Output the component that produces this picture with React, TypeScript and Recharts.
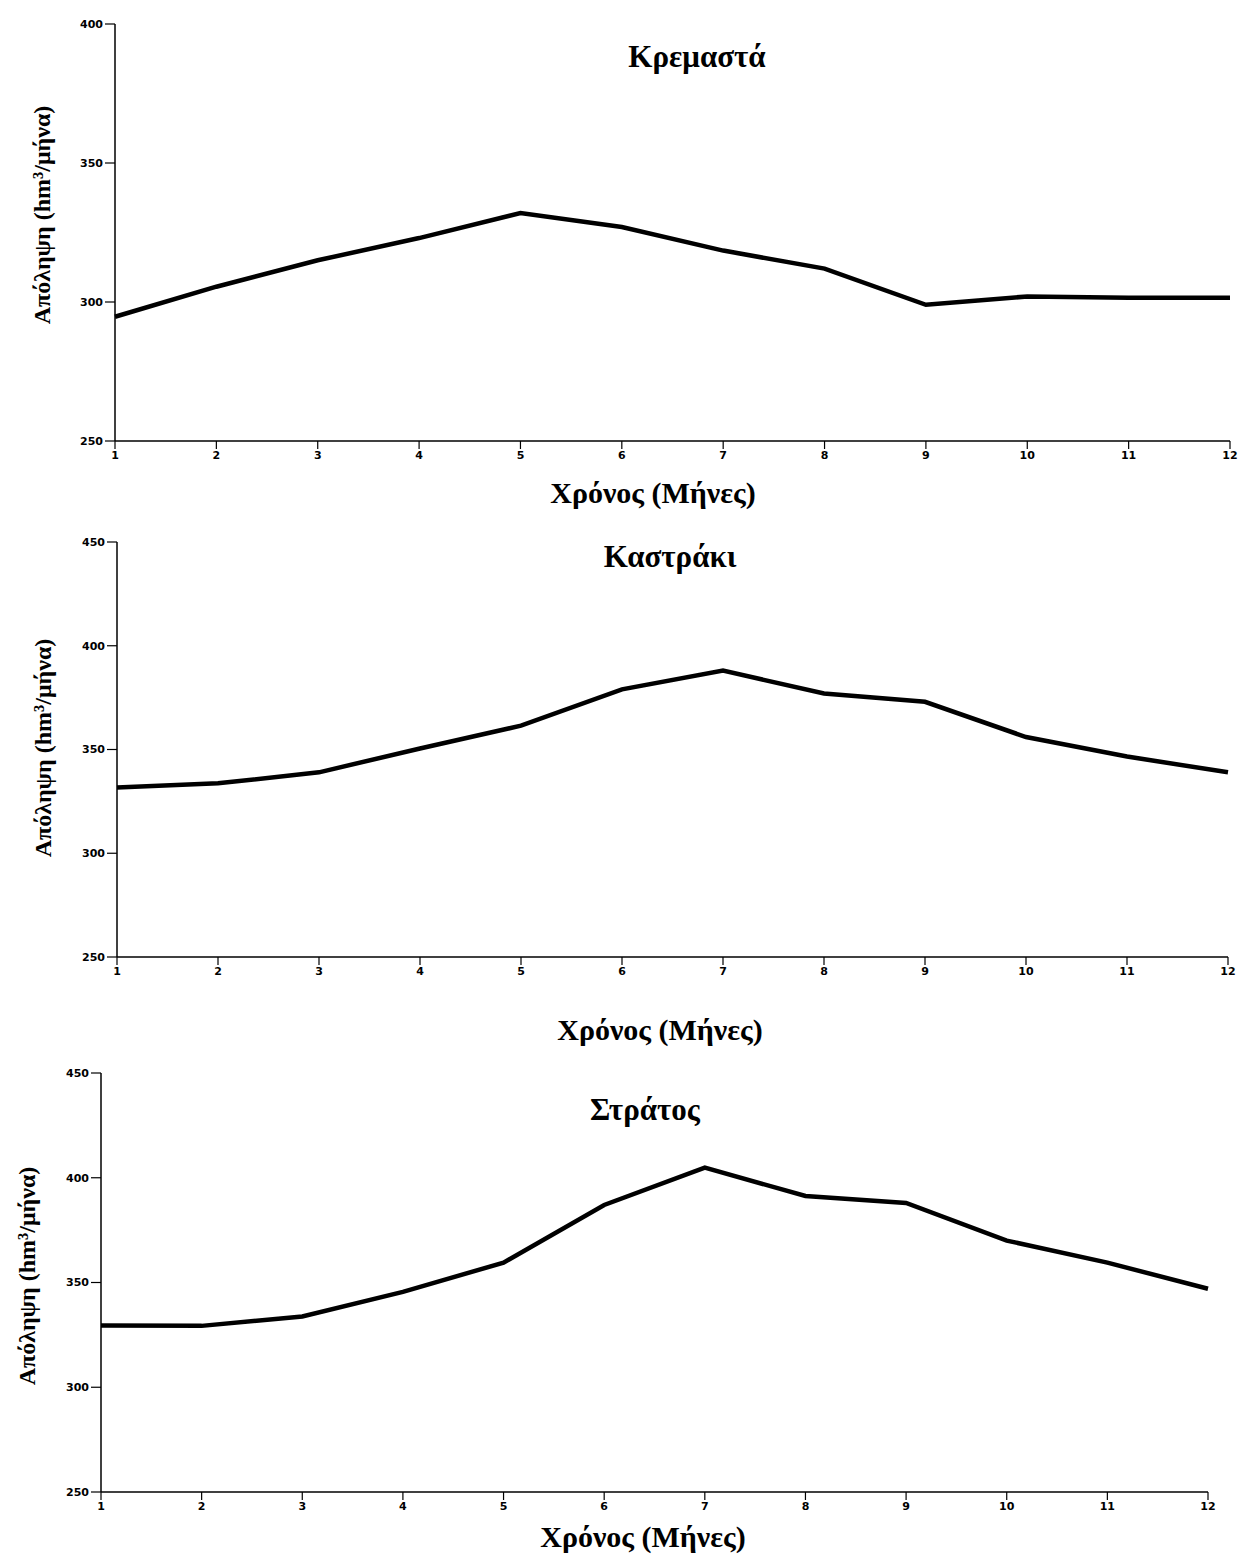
import React from 'react';
import { LineChart, Line, XAxis, YAxis } from 'recharts';

const months = [1, 2, 3, 4, 5, 6, 7, 8, 9, 10, 11, 12];

const kremastaValues = [294.7, 305.5, 315, 323, 332, 327, 318.5, 312, 299, 302, 301.5, 301.5];
const kastrakiValues = [331.7, 333.7, 339, 350.5, 361.5, 379, 388, 377, 373, 356, 346.6, 339];
const stratosValues = [329.5, 329.3, 333.8, 345.5, 359.5, 387, 404.8, 391.3, 388, 370, 359.5, 347];

const ticksKremasta = [250, 300, 350, 400];
const ticksOther = [250, 300, 350, 400, 450];

const toRows = (vals: number[]) => months.map((m, i) => ({ month: m, value: vals[i] }));

const SERIF = '"Liberation Serif", "Times New Roman", serif';
const TICK_FONT = { fontFamily: '"DejaVu Sans", sans-serif', fontSize: 11, fontWeight: 700, fill: '#000' };

interface PanelProps {
  data: Array<{ month: number; value: number }>;
  yMax: number;
  yTicks: number[];
  plotLeft: number;
  plotRight: number;
  plotTop: number;
  plotBottom: number;
  title: string;
  titleX: number;
  titleY: number;
  xLabelX: number;
  xLabelY: number;
  yLabelX: number;
  yLabelY: number;
}

function Panel(p: PanelProps) {
  const chartTop = p.plotTop - 10;
  const xAxisH = 30;
  const height = p.plotBottom - chartTop + xAxisH;
  return (
    <>
      <div style={{ position: 'absolute', left: 0, top: chartTop }}>
        <LineChart
          width={1242}
          height={height}
          data={p.data}
          margin={{ top: 10, right: 1242 - p.plotRight, bottom: 0, left: 0 }}
        >
          <XAxis
            dataKey="month"
            type="number"
            domain={[1, 12]}
            ticks={months}
            height={xAxisH}
            tickSize={8}
            tick={TICK_FONT}
            axisLine={{ stroke: '#000', strokeWidth: 1.5 }}
            tickLine={{ stroke: '#000', strokeWidth: 1.2 }}
          />
          <YAxis
            type="number"
            domain={[250, p.yMax]}
            ticks={p.yTicks}
            width={p.plotLeft}
            tickSize={10}
            tick={TICK_FONT}
            axisLine={{ stroke: '#000', strokeWidth: 1.5 }}
            tickLine={{ stroke: '#000', strokeWidth: 1.2 }}
          />
          <Line
            type="linear"
            dataKey="value"
            stroke="#000"
            strokeWidth={4.5}
            dot={false}
            isAnimationActive={false}
          />
        </LineChart>
      </div>
      <div
        style={{
          position: 'absolute', left: p.titleX, top: p.titleY, transform: 'translate(-50%, -50%)',
          fontFamily: SERIF, fontWeight: 700, fontSize: 31, whiteSpace: 'nowrap',
        }}
      >
        {p.title}
      </div>
      <div
        style={{
          position: 'absolute', left: p.xLabelX, top: p.xLabelY, transform: 'translate(-50%, -50%)',
          fontFamily: SERIF, fontWeight: 700, fontSize: 30, whiteSpace: 'nowrap',
        }}
      >
        Χρόνος (Μήνες)
      </div>
      <div
        style={{
          position: 'absolute', left: p.yLabelX, top: p.yLabelY,
          transform: 'translate(-50%, -50%) rotate(-90deg)',
          fontFamily: SERIF, fontWeight: 700, fontSize: 24, whiteSpace: 'nowrap',
        }}
      >
        Απόληψη (hm³/μήνα)
      </div>
    </>
  );
}

export default function App() {
  return (
    <div style={{ position: 'absolute', left: 0, top: 0, width: 1242, height: 1561, background: '#fff' }}>
      <Panel
        data={toRows(kremastaValues)}
        yMax={400}
        yTicks={ticksKremasta}
        plotLeft={115}
        plotRight={1230}
        plotTop={24}
        plotBottom={441}
        title="Κρεμαστά"
        titleX={697}
        titleY={57}
        xLabelX={653}
        xLabelY={493}
        yLabelX={42}
        yLabelY={215}
      />
      <Panel
        data={toRows(kastrakiValues)}
        yMax={450}
        yTicks={ticksOther}
        plotLeft={117}
        plotRight={1228}
        plotTop={542}
        plotBottom={957}
        title="Καστράκι"
        titleX={670}
        titleY={557}
        xLabelX={660}
        xLabelY={1030}
        yLabelX={43}
        yLabelY={748}
      />
      <Panel
        data={toRows(stratosValues)}
        yMax={450}
        yTicks={ticksOther}
        plotLeft={101}
        plotRight={1208}
        plotTop={1073}
        plotBottom={1492}
        title="Στράτος"
        titleX={645}
        titleY={1110}
        xLabelX={643}
        xLabelY={1537}
        yLabelX={27}
        yLabelY={1276}
      />
    </div>
  );
}
